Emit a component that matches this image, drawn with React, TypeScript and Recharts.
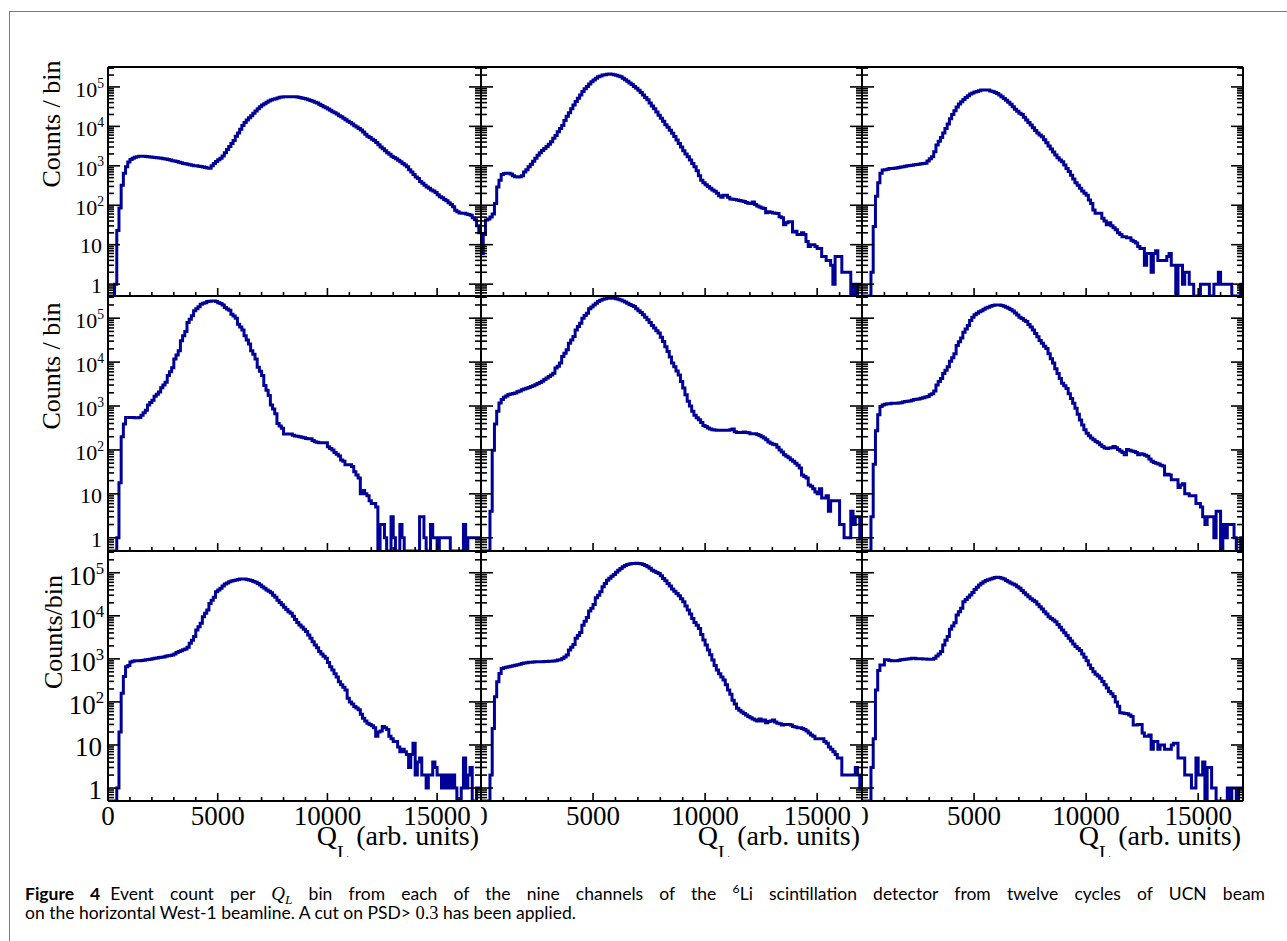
import React from 'react';
import { LineChart, Line, XAxis, YAxis } from 'recharts';

// Q_L histograms, 100-unit bins from 0 to 17000
const BIN_WIDTH = 100;
const Q_MAX = 17000;
const COUNT_FLOOR = 0.5; // bottom of the log axis, empty bins sit on it
const COUNT_TOP = 320000;

const qTicks = [0, 1000, 2000, 3000, 4000, 5000, 6000, 7000, 8000, 9000, 10000, 11000, 12000, 13000, 14000, 15000, 16000, 17000];
const countTicks = [
  0.6, 0.7, 0.8, 0.9, 1, 2, 3, 4, 5, 6, 7, 8, 9, 10, 20, 30, 40, 50, 60, 70, 80, 90,
  100, 200, 300, 400, 500, 600, 700, 800, 900, 1000, 2000, 3000, 4000, 5000, 6000, 7000, 8000, 9000,
  10000, 20000, 30000, 40000, 50000, 60000, 70000, 80000, 90000, 100000, 200000, 300000,
];

// counts per bin, one array per channel
const ch1 = [
  0, 0, 0, 1, 23, 85, 320, 650, 950, 1250,
  1450, 1550, 1650, 1700, 1750, 1750, 1750, 1720, 1700, 1680,
  1650, 1620, 1600, 1580, 1550, 1500, 1480, 1450, 1400, 1350,
  1320, 1280, 1230, 1200, 1150, 1120, 1100, 1060, 1030, 1010,
  1000, 980, 960, 930, 900, 880, 870, 1000, 1150, 1280,
  1420, 1550, 1770, 2150, 2600, 3100, 3700, 4400, 5600, 6800,
  8500, 10500, 12500, 14500, 16500, 18500, 21500, 24500, 28000, 31500,
  35000, 37500, 41000, 44000, 46500, 48500, 50500, 52500, 54500, 55500,
  56000, 56500, 56500, 56500, 56500, 56000, 55500, 54000, 52500, 51000,
  49500, 47500, 45500, 43500, 41000, 39000, 36500, 34000, 31500, 29500,
  27500, 25500, 23500, 22000, 20500, 18500, 17500, 16000, 14800, 13500,
  12500, 11400, 10400, 9600, 8800, 8100, 7200, 6300, 5650, 5200,
  4700, 4350, 3900, 3400, 3000, 2700, 2400, 2150, 1950, 1750,
  1630, 1500, 1380, 1260, 1150, 1050, 950, 800, 700, 600,
  520, 480, 400, 360, 320, 290, 270, 245, 230, 210,
  185, 165, 155, 140, 130, 115, 105, 92, 75, 68,
  64, 63, 63, 60, 58, 56, 48, 43, 30, 20,
];

const ch2 = [
  6, 18, 42, 45, 50, 60, 110, 290, 430, 600,
  640, 650, 650, 620, 560, 530, 520, 530, 560, 700,
  800, 950, 1100, 1300, 1550, 1850, 2150, 2450, 2750, 3100,
  3500, 4100, 5000, 5900, 7300, 8800, 10500, 14000, 18000, 22000,
  28000, 35000, 43000, 52000, 62000, 77000, 90000, 103000, 118000, 135000,
  150000, 165000, 180000, 190000, 200000, 205000, 210000, 212000, 210000, 205000,
  198000, 190000, 180000, 165000, 152000, 140000, 126000, 115000, 102000, 92000,
  82000, 72000, 62000, 54000, 47000, 39000, 33000, 28000, 23000, 19000,
  16000, 13500, 11000, 9500, 8000, 6700, 5500, 4500, 3700, 3000,
  2400, 2000, 1700, 1400, 1150, 950, 750, 560, 430, 370,
  330, 300, 270, 245, 225, 200, 175, 160, 180, 180,
  160, 145, 142, 140, 135, 132, 128, 124, 118, 112,
  110, 120, 105, 95, 90, 85, 83, 65, 68, 66,
  64, 63, 62, 51, 48, 32, 36, 38, 38, 21,
  22, 18, 18, 20, 18, 12, 9, 10, 10, 9,
  8, 8, 5, 5, 4, 4, 3, 1, 5, 5,
  5, 2, 2, 2, 2, 0, 1, 0, 1, 1,
];

const ch3 = [
  0, 0, 0, 0, 2, 29, 170, 370, 650, 780,
  800, 820, 850, 860, 870, 880, 900, 930, 950, 970,
  1000, 1020, 1040, 1060, 1080, 1100, 1130, 1150, 1160, 1320,
  1500, 1700, 2270, 3350, 4200, 5200, 6800, 8800, 11500, 15500,
  20000, 25000, 31000, 37000, 42000, 48000, 54000, 60000, 66000, 70000,
  74000, 77000, 80000, 83000, 84000, 84000, 83000, 79000, 76000, 72000,
  68000, 62000, 56000, 51000, 46000, 41000, 36500, 31500, 27000, 24000,
  21500, 20000, 17000, 14400, 12500, 10800, 9200, 7800, 6800, 6000,
  5450, 4600, 3850, 3200, 2680, 2250, 1880, 1600, 1400, 1260,
  1050, 860, 720, 580, 460, 370, 320, 270, 230, 200,
  180, 135, 110, 76, 63, 63, 63, 47, 40, 32,
  36, 30, 27, 24, 20, 18, 16, 16, 15, 15,
  13, 12, 11, 9, 8, 8, 3, 6, 6, 2,
  6, 7, 4, 4, 4, 4, 5, 6, 3, 3,
  0, 3, 3, 1, 2, 2, 1, 1, 0, 0,
  0, 1, 1, 1, 1, 0, 0, 1, 1, 2,
  1, 1, 1, 1, 1, 0, 0, 0, 0, 1,
];

const ch4 = [
  0, 0, 0, 0, 1, 18, 200, 390, 550, 550,
  550, 550, 540, 540, 550, 620, 700, 800, 1050, 1200,
  1350, 1660, 1850, 2090, 2620, 3000, 3500, 4980, 6000, 7400,
  11800, 14500, 18200, 30700, 40000, 50000, 80000, 95000, 113000, 148000,
  165000, 182000, 209000, 218000, 226000, 239000, 243000, 246000, 246000, 240000,
  226000, 215000, 200000, 174000, 162000, 151000, 123000, 112000, 100000, 73000,
  63000, 54000, 40000, 32000, 26000, 18200, 15000, 11800, 7600, 6200,
  4980, 2940, 2300, 1740, 1050, 850, 670, 400, 350, 310,
  230, 230, 230, 230, 215, 208, 205, 200, 195, 190,
  183, 180, 180, 165, 154, 150, 146, 146, 146, 146,
  118, 108, 100, 87, 80, 73, 59, 55, 46, 46,
  46, 42, 32, 27, 23, 10, 12, 10, 9, 7,
  6, 6, 5, 0, 2, 2, 1, 0, 0, 3,
  1, 0, 0, 2, 1, 0, 0, 0, 0, 0,
  0, 0, 3, 3, 1, 0, 0, 2, 1, 1,
  0, 1, 1, 1, 1, 1, 0, 0, 0, 0,
  0, 0, 2, 0, 1, 1, 1, 1, 1, 1,
];

const ch5 = [
  0, 0, 0, 0, 4, 98, 390, 760, 1170, 1400,
  1580, 1700, 1820, 1880, 1930, 1980, 2100, 2200, 2350, 2450,
  2550, 2650, 2780, 2900, 3050, 3250, 3450, 3650, 4000, 4350,
  4700, 5100, 5600, 7300, 8000, 9500, 13500, 16000, 19000, 27000,
  32000, 38500, 54000, 65000, 77000, 100000, 115000, 130000, 163000, 180000,
  200000, 220000, 240000, 255000, 270000, 278000, 285000, 285000, 285000, 285000,
  278000, 270000, 258000, 247000, 233000, 219000, 205000, 195000, 185000, 165000,
  148000, 135000, 120000, 105000, 92000, 80000, 68000, 60000, 52000, 46000,
  37000, 29500, 22500, 17400, 13000, 9500, 7800, 6300, 5100, 3600,
  2570, 1800, 1280, 1000, 760, 620, 540, 490, 420, 360,
  340, 316, 300, 290, 285, 280, 280, 280, 280, 280,
  280, 290, 300, 260, 250, 250, 250, 255, 250, 245,
  235, 235, 235, 225, 213, 200, 188, 170, 152, 142,
  135, 132, 115, 100, 90, 78, 72, 66, 60, 55,
  50, 45, 39, 27, 25, 23, 16, 15, 13, 11,
  10, 13, 8, 8, 9, 4, 7, 7, 7, 7,
  2, 2, 1, 1, 1, 4, 2, 3, 3, 1,
];

const ch6 = [
  0, 0, 0, 0, 3, 47, 275, 630, 970, 1050,
  1100, 1120, 1130, 1150, 1150, 1160, 1170, 1180, 1230, 1260,
  1280, 1300, 1350, 1400, 1420, 1450, 1500, 1550, 1600, 1650,
  1800, 1900, 2190, 3000, 3600, 4250, 5500, 6500, 7800, 10500,
  12500, 15500, 24000, 29000, 35500, 48000, 57000, 68000, 89000, 105000,
  120000, 130000, 140000, 148000, 160000, 170000, 178000, 186000, 194000, 200000,
  200000, 199000, 195000, 188000, 178000, 168000, 158000, 145000, 132000, 118000,
  105000, 98000, 90000, 84000, 72000, 63000, 54000, 45000, 38000, 31000,
  27000, 23000, 20400, 15500, 12000, 9500, 7100, 5500, 4250, 3300,
  2900, 2500, 1900, 1490, 1150, 890, 650, 480, 370, 290,
  240, 210, 186, 170, 156, 145, 132, 120, 110, 108,
  110, 112, 120, 112, 102, 95, 88, 78, 102, 98,
  95, 92, 88, 78, 82, 80, 76, 72, 62, 55,
  52, 50, 48, 45, 43, 27, 28, 27, 21, 21,
  21, 14, 16, 17, 10, 10, 9, 9, 9, 6,
  6, 5, 3, 2, 3, 3, 3, 1, 4, 4,
  0, 2, 1, 2, 2, 2, 1, 0, 0, 1,
];

const ch7 = [
  0, 0, 0, 0, 1, 20, 160, 390, 660, 700,
  850, 880, 900, 910, 910, 920, 930, 950, 970, 980,
  1000, 1030, 1050, 1080, 1090, 1100, 1150, 1180, 1200, 1230,
  1300, 1400, 1480, 1550, 1620, 1700, 1860, 2290, 2700, 3300,
  4700, 5600, 6700, 9500, 11500, 13600, 19400, 23000, 26800, 36000,
  40000, 43500, 49000, 54700, 58000, 62000, 64000, 66000, 68000, 70000,
  71500, 72000, 71500, 70000, 68000, 66000, 63000, 60000, 56000, 51600,
  47000, 43500, 40000, 37000, 34500, 30000, 26800, 23000, 20500, 18000,
  15700, 14000, 12500, 11400, 9800, 8250, 7000, 6100, 5500, 4900,
  4300, 3600, 3000, 2500, 2100, 1800, 1480, 1300, 1150, 1030,
  820, 660, 550, 450, 380, 295, 250, 220, 190, 122,
  100, 90, 78, 72, 66, 52, 42, 36, 32, 30,
  28, 25, 16, 20, 21, 27, 25, 23, 16, 14,
  12, 12, 9, 7, 8, 7, 6, 3, 6, 11,
  2, 4, 5, 2, 2, 1, 2, 2, 4, 3,
  2, 2, 1, 2, 1, 2, 1, 2, 1, 0,
  0, 1, 5, 1, 2, 3, 0, 0, 1, 1,
];

const ch8 = [
  0, 0, 0, 0, 2, 24, 132, 295, 460, 600,
  620, 640, 660, 670, 690, 710, 730, 750, 780, 800,
  815, 830, 840, 850, 855, 860, 860, 860, 865, 870,
  875, 880, 890, 910, 935, 960, 1020, 1100, 1230, 1600,
  1850, 2170, 3000, 3500, 4100, 6000, 7500, 9100, 12900, 15000,
  18200, 26300, 30000, 36300, 47000, 56000, 67000, 75000, 83000, 91000,
  103000, 115000, 126000, 138000, 148000, 156000, 160000, 163000, 165000, 166000,
  165000, 162000, 156000, 147000, 138000, 128000, 115000, 108000, 102000, 96000,
  85000, 74000, 65000, 56500, 49000, 41800, 37000, 33000, 29300, 25000,
  21200, 17000, 13600, 11000, 8700, 7000, 6000, 5100, 3700, 2740,
  2100, 1600, 1250, 935, 700, 550, 450, 380, 322, 250,
  189, 150, 110, 90, 71, 64, 58, 54, 50, 46,
  43, 40, 38, 36, 40, 36, 38, 33, 35, 36,
  38, 34, 32, 31, 29, 30, 30, 30, 29, 27,
  26, 25, 25, 24, 23, 21, 19, 17, 16, 14,
  14, 14, 14, 12, 11, 9, 8, 7, 6, 5,
  5, 2, 2, 2, 2, 2, 2, 3, 2, 1,
];

const ch9 = [
  0, 0, 0, 0, 3, 14, 190, 535, 720, 720,
  950, 950, 920, 910, 910, 910, 920, 950, 970, 980,
  990, 1010, 1030, 1030, 1010, 1000, 1000, 990, 990, 980,
  980, 980, 1030, 1170, 1300, 1480, 2100, 2700, 3300, 4850,
  5800, 6900, 10400, 12500, 14900, 21300, 24000, 27000, 30300, 35000,
  41000, 46000, 51600, 57000, 62000, 66000, 69000, 71500, 75000, 78000,
  79000, 78000, 75000, 71500, 66000, 62000, 58000, 55000, 51600, 47000,
  43500, 38500, 34500, 31000, 27700, 25000, 23000, 21300, 18500, 16300,
  14300, 12500, 11000, 9500, 8700, 8000, 7300, 6300, 5400, 4700,
  4050, 3500, 3000, 2600, 2220, 1950, 1750, 1560, 1300, 1090,
  900, 720, 600, 500, 440, 400, 355, 300, 250, 210,
  174, 155, 134, 100, 79, 56, 55, 54, 53, 50,
  46, 29, 29, 30, 30, 19, 16, 16, 17, 8,
  12, 12, 8, 10, 10, 8, 8, 8, 10, 11,
  11, 5, 5, 5, 2, 2, 2, 1, 1, 5,
  2, 2, 4, 0, 3, 3, 1, 1, 0, 0,
  0, 0, 0, 1, 0, 1, 1, 0, 1, 1,
];

const channels = [ch1, ch2, ch3, ch4, ch5, ch6, ch7, ch8, ch9];

const LINE_COLOR = '#000099';
const SERIF = '"Liberation Serif", "Times New Roman", serif';
const SANS = 'Lato, "Noto Sans", sans-serif';
const AXIS_LINE = { stroke: '#000', strokeWidth: 2 };

// pad layout, 3 x 3 with shared borders
const colLeft = [108, 481, 862];
const colWidth = [373, 381, 381];
const rowTop = [67, 296, 551];
const rowHeight = [229, 255, 250];
// room the axes take around each plot box
const PAD_L = 60;
const PAD_R = 10;
const PAD_T = 10;
const PAD_B = 40;

const toRows = (counts: number[]) => {
  const rows = counts.map((c, i) => ({ q: i * BIN_WIDTH, n: Math.max(c, COUNT_FLOOR) }));
  // close the last bin at its upper edge
  rows.push({ q: Q_MAX, n: rows[rows.length - 1].n });
  return rows;
};

const isDecade = (v: number) => Math.abs(Math.log10(v) - Math.round(Math.log10(v))) < 1e-9;

const yTick = (side: 'left' | 'right', labels: boolean, fs: number) => (p: any) => {
  const { x, y, payload } = p;
  const v = payload.value;
  const major = isDecade(v);
  const len = major ? 12 : 6;
  const e = Math.round(Math.log10(v));
  return (
    <g>
      <line x1={x} y1={y} x2={side === 'left' ? x + len : x - len} y2={y} stroke="#000" strokeWidth={1.6} />
      {labels && major && e < 2 && (
        <text x={x - 6} y={y + fs * 0.4} textAnchor="end" fontSize={fs} fontFamily={SERIF} fill="#000">
          {e === 0 ? '1' : '10'}
        </text>
      )}
      {labels && major && e >= 2 && (
        <text x={x - 4} y={y + fs * 0.45} textAnchor="end" fontSize={fs} fontFamily={SERIF} fill="#000">
          10<tspan dy={-fs * 0.42} fontSize={fs * 0.62}>{e}</tspan>
        </text>
      )}
    </g>
  );
};

const xTick = (side: 'bottom' | 'top', labels: boolean, clipZero: boolean) => (p: any) => {
  const { x, y, payload } = p;
  const v = payload.value;
  const major = v % 5000 === 0;
  const len = major ? 8 : 4;
  let label = null;
  if (labels && major) {
    label = v === 0 && clipZero ? (
      <svg x={x} y={y} width={16} height={34} overflow="hidden">
        <text x={0} y={24} textAnchor="middle" fontSize={27} fontFamily={SERIF} fill="#000">0</text>
      </svg>
    ) : (
      <text x={x} y={y + 24} textAnchor="middle" fontSize={27} fontFamily={SERIF} fill="#000">{v}</text>
    );
  }
  return (
    <g>
      <line x1={x} y1={y} x2={x} y2={side === 'bottom' ? y - len : y + len} stroke="#000" strokeWidth={1.6} />
      {label}
    </g>
  );
};

const Panel = ({ counts, row, col }: { counts: number[]; row: number; col: number }) => {
  const w = colWidth[col];
  const h = rowHeight[row];
  const yFont = row === 2 ? 27 : 22;
  return (
    <div style={{ position: 'absolute', left: colLeft[col] - PAD_L, top: rowTop[row] - PAD_T }}>
      <LineChart width={w + PAD_L + PAD_R} height={h + PAD_T + PAD_B} data={toRows(counts)}
        margin={{ top: 0, right: 0, bottom: 0, left: 0 }}>
        <XAxis xAxisId="b" dataKey="q" type="number" domain={[0, Q_MAX]} ticks={qTicks} interval={0} allowDataOverflow
          height={PAD_B} tickSize={0} tickMargin={0} tickLine={false} axisLine={AXIS_LINE} tick={xTick('bottom', row === 2, col > 0)} />
        <XAxis xAxisId="t" orientation="top" type="number" domain={[0, Q_MAX]} ticks={qTicks} interval={0} allowDataOverflow
          height={PAD_T} tickSize={0} tickMargin={0} tickLine={false} axisLine={AXIS_LINE} tick={xTick('top', false, false)} />
        <YAxis yAxisId="l" type="number" scale="log" domain={[COUNT_FLOOR, COUNT_TOP]} ticks={countTicks} interval={0} allowDataOverflow
          width={PAD_L} tickSize={0} tickMargin={0} tickLine={false} axisLine={AXIS_LINE} tick={yTick('left', col === 0, yFont)} />
        <YAxis yAxisId="r" orientation="right" type="number" scale="log" domain={[COUNT_FLOOR, COUNT_TOP]} ticks={countTicks} interval={0} allowDataOverflow
          width={PAD_R} tickSize={0} tickMargin={0} tickLine={false} axisLine={AXIS_LINE} tick={yTick('right', false, yFont)} />
        <Line xAxisId="b" yAxisId="l" dataKey="n" type="stepAfter" stroke={LINE_COLOR} strokeWidth={3}
          dot={false} activeDot={false} isAnimationActive={false} />
      </LineChart>
    </div>
  );
};

const countsTitle = [
  { text: 'Counts / bin', x: 60, y: 124 },
  { text: 'Counts / bin', x: 60, y: 366 },
  { text: 'Counts/bin', x: 62, y: 632 },
];

const small: React.CSSProperties = { fontSize: '70%', lineHeight: 0, position: 'relative' };

export default function App() {
  return (
    <div style={{ position: 'absolute', left: 0, top: 0, width: 1287, height: 941, overflow: 'hidden', background: '#fff' }}>
      <div style={{ position: 'absolute', left: 9, top: 11, width: 1278, height: 930, boxSizing: 'border-box', borderLeft: '1px solid #5b7fb0', borderTop: '1px solid #5b7fb0' }} />
      {channels.map((counts, k) => (
        <Panel key={k} counts={counts} row={Math.floor(k / 3)} col={k % 3} />
      ))}
      <svg width={1287} height={941} style={{ position: 'absolute', left: 0, top: 0, pointerEvents: 'none' }}>
        <defs>
          <clipPath id="canvasClip">
            <rect x={0} y={0} width={1287} height={857} />
          </clipPath>
        </defs>
        {countsTitle.map((t, i) => (
          <text key={i} x={t.x} y={t.y} transform={`rotate(-90 ${t.x} ${t.y})`} textAnchor="middle" fontSize={26} fontFamily={SERIF} fill="#000">
            {t.text}
          </text>
        ))}
        <g clipPath="url(#canvasClip)">
          {colLeft.map((l, i) => (
            <text key={i} x={l + colWidth[i] - 2} y={845} textAnchor="end" fontSize={28} fontFamily={SERIF} fill="#000">
              Q<tspan fontSize={20} dy={15}>L</tspan><tspan dy={-15}> (arb. units)</tspan>
            </text>
          ))}
        </g>
      </svg>
      <div style={{ position: 'absolute', left: 25, top: 884, width: 1240, fontFamily: SANS, fontSize: 17.5, lineHeight: '19px', color: '#000' }}>
        <div style={{ textAlign: 'justify', textAlignLast: 'justify' }}>
          <b>Figure 4</b>
          <span style={{ display: 'inline-block', width: 10 }} />
          Event count per <span style={{ fontFamily: SERIF, fontStyle: 'italic', fontSize: 19 }}>Q<span style={{ ...small, top: 4 }}>L</span></span> bin from each of the nine channels of the <span style={{ ...small, top: -7 }}>6</span>Li scintillation detector from twelve cycles of UCN beam
        </div>
        <div>
          on the horizontal West-1 beamline. A cut on PSD&gt; <span style={{ fontFamily: SERIF, fontSize: 18.5 }}>0.3</span> has been applied.
        </div>
      </div>
    </div>
  );
}
